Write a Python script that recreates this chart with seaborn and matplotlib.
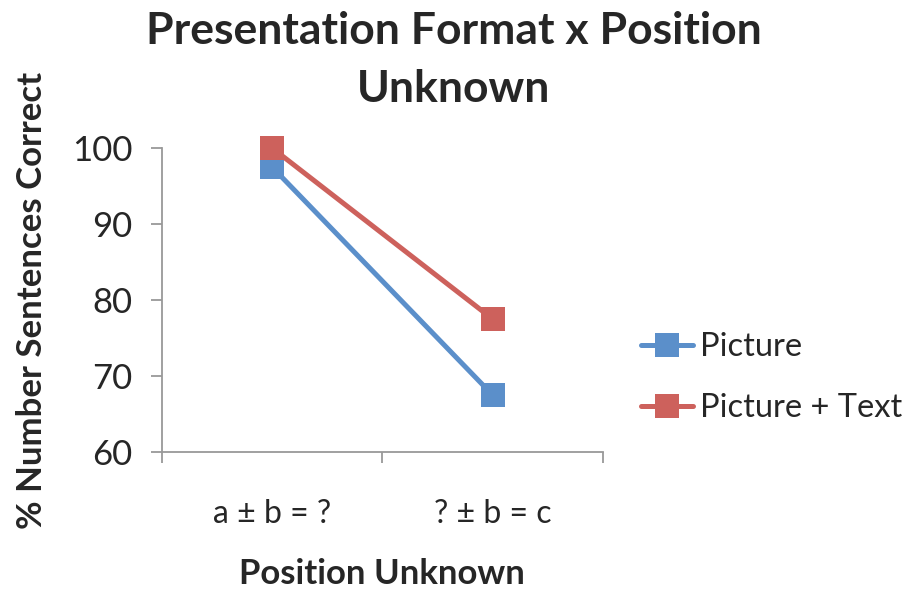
import pandas as pd
import matplotlib
matplotlib.use("Agg")
import matplotlib.pyplot as plt
import seaborn as sns

categories = ["a ± b = ?", "? ± b = c"]
picture = [97.5, 67.5]
picture_text = [100, 77.5]
series_names = ["Picture", "Picture + Text"]

df = pd.DataFrame({
    "Position": categories * 2,
    "Pct": picture + picture_text,
    "Format": [series_names[0]] * 2 + [series_names[1]] * 2,
})

sns.set_style("white")
plt.rcParams['font.family'] = ['Lato', 'DejaVu Sans']

fig = plt.figure(figsize=(9.08, 5.94), dpi=100)
ax = fig.add_axes([0.178, 0.239, 0.486, 0.512])
ax = sns.lineplot(data=df, x="Position", y="Pct", hue="Format", style="Format",
                  markers=["s", "s"], dashes=False, markersize=17, linewidth=3.6,
                  markeredgewidth=0, palette=["#5b8fca", "#cd615c"], ax=ax)
for ln in ax.lines:
    ln.set_clip_on(False)

ax.set_ylim(60, 100)
ax.set_yticks([60, 70, 80, 90, 100])
ax.set_xlim(-0.5, 1.5)
ax.set_xticks([-0.5, 0.5, 1.5], labels=["", "", ""])
ax.set_xticks([0, 1], labels=categories, minor=True)
ax.tick_params(axis="both", which="major", length=8, width=1.3, color="#999999",
               direction="out", labelsize=25, pad=13)
ax.tick_params(axis="x", which="minor", length=0, pad=34, labelsize=23)
ax.tick_params(axis="y", left=True)
ax.tick_params(axis="x", which="major", bottom=True)
for s in ["top", "right"]:
    ax.spines[s].set_visible(False)
for s in ["left", "bottom"]:
    ax.spines[s].set_color("#999999")
    ax.spines[s].set_linewidth(1.3)

ax.set_xlabel("Position Unknown", fontsize=25, fontweight="bold", labelpad=21)
ax.set_ylabel("% Number Sentences Correct", fontsize=25, fontweight="bold", labelpad=17)
fig.suptitle("Presentation Format x Position\nUnknown", fontsize=32,
             fontweight="bold", x=0.5, y=0.982, va="top", linespacing=1.55)

ax.legend(loc="center left", bbox_to_anchor=(1.02, 0.245), frameon=False,
          fontsize=23.5, handlelength=1.6, labelspacing=0.95, handletextpad=0.2)

plt.savefig("out.png", dpi=100)
